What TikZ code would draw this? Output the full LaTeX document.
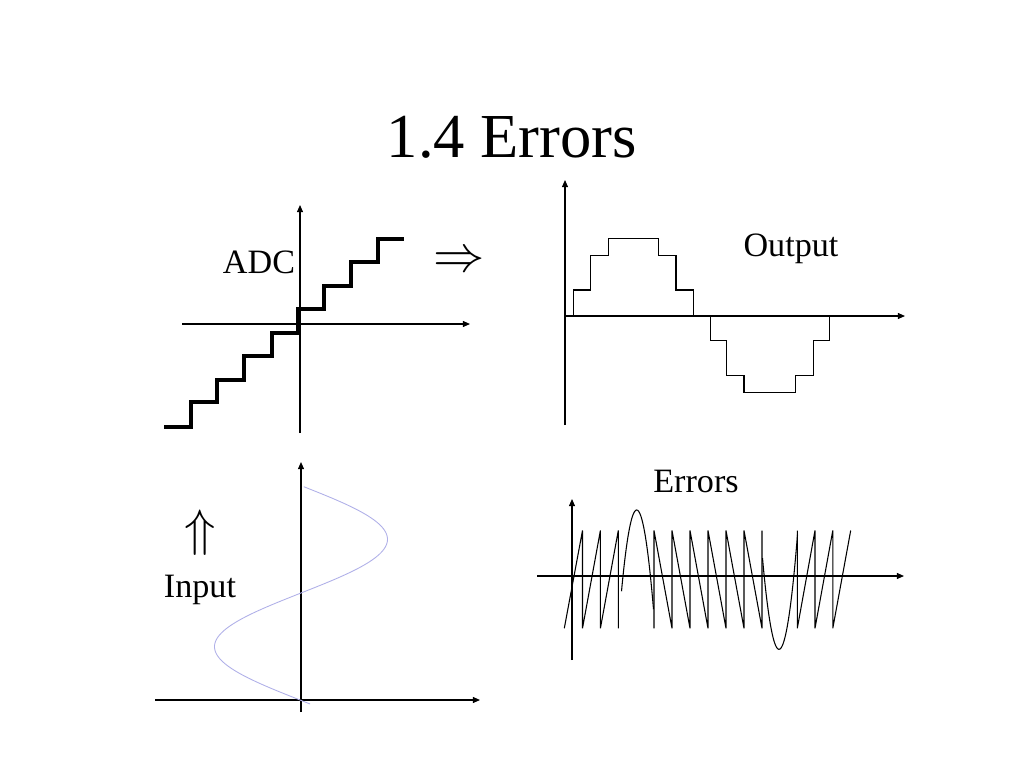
\documentclass[tikz,border=0pt]{standalone}
\usepackage{fontspec}
\setmainfont{Liberation Serif}
\usetikzlibrary{arrows.meta}
\definecolor{inputc}{RGB}{175,175,232}
\begin{document}
\begin{tikzpicture}[x=0.703pt,y=-0.703pt,
  axis/.style={line width=0.8pt,-{Triangle[length=5pt,width=4.2pt]}},
  thinline/.style={line width=0.75pt,black},
  adcstair/.style={line width=2.6pt,black},
  lbl/.style={font=\fontsize{24}{28}\selectfont,anchor=base,inner sep=0pt},
  sym/.style={font=\fontsize{24}{28}\selectfont,inner sep=0pt,scale=1.45}]
\fill[white] (0,0) rectangle (1024,768);
\useasboundingbox (0,0) rectangle (1024,768);

% title
\node[anchor=base,inner sep=0pt,font=\fontsize{44}{50}\selectfont] (title) at (512,157) {1.4 Errors};

% ---------- ADC ----------
\draw[axis] (182,324) -- (470,324);
\draw[axis] (300,433) -- (300,205);
\draw[adcstair] (164,427) -- (190.7,427) -- (190.7,402.3) -- (217.3,402.3) -- (217.3,380)
  -- (244.3,380) -- (244.3,355.7) -- (271.7,355.7) -- (271.7,332.7) -- (298.3,332.7)
  -- (298.3,308.7) -- (324,308.7) -- (324,286) -- (351,286) -- (351,262)
  -- (377.7,262) -- (377.7,239) -- (404,239);
\node[lbl] (adc) at (259,273) {ADC};
\node[sym] (rarrow) at (459,262) {$\Rightarrow$};

% ---------- Output ----------
\draw[axis] (565,316) -- (905,316);
\draw[axis] (565,425) -- (565,180);
\draw[thinline] (573.3,316) -- (573.3,290) -- (590.7,290) -- (590.7,255.7) -- (608.3,255.7)
  -- (608.3,238.3) -- (658.3,238.3) -- (658.3,255.7) -- (676,255.7) -- (676,290)
  -- (693.3,290) -- (693.3,316);
\draw[thinline] (710.7,316) -- (710.7,340.7) -- (726.7,340.7) -- (726.7,375.7) -- (744,375.7)
  -- (744,392.3) -- (795.7,392.3) -- (795.7,375.7) -- (813.3,375.7) -- (813.3,340.7)
  -- (829.3,340.7) -- (829.3,316);
\node[lbl] (output) at (791,256) {Output};

% ---------- Input ----------
\draw[axis] (155,700) -- (480,700);
\draw[axis] (301,712) -- (301,462);
\draw[inputc,line width=0.6pt] plot[domain=486.7:704,samples=120,variable=\t]
  ({301-86.5*sin((\t-593)/107.4*180)},\t);
\node[sym] (uarrow) at (200,533) {$\Uparrow$};
\node[lbl] (input) at (200,597) {Input};

% ---------- Errors ----------
\draw[axis] (537,576) -- (904,576);
\draw[axis] (572,660) -- (572,499);
\draw[thinline] (564.3,628.3) -- (582.5,530.5) -- (582.5,628.3) -- (600.4,530.5) -- (600.4,628.3)
  -- (618.3,530.5) -- (618.3,628.3);
\draw[thinline] plot[domain=621.5:653.5,samples=60] (\x,{510+0.3516*(\x-636.7)^2});
\draw[thinline] (654,628.3) -- (654,530.5) -- (672,628.3) -- (672,530.5) -- (690,628.3)
  -- (690,530.5) -- (708,628.3) -- (708,530.5) -- (726,628.3) -- (726,530.5)
  -- (744,628.3) -- (744,530.5) -- (762,628.3) -- (762,530.5);
\draw[thinline] plot[domain=762.5:797.5,samples=60] (\x,{649.3-0.3346*(\x-779)^2});
\draw[thinline] (797.3,530.5) -- (797.3,628.3) -- (815,530.5) -- (815,628.3) -- (832.8,530.5)
  -- (832.8,628.3) -- (850.7,530.5);
\node[lbl] (errors) at (696,492) {Errors};
\end{tikzpicture}
\end{document}
